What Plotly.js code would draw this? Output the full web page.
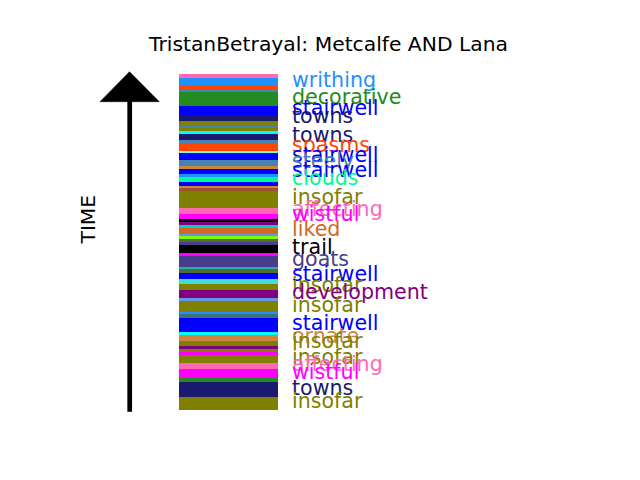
<!DOCTYPE html>
<html><head><meta charset="utf-8">
<script src="https://cdn.plot.ly/plotly-3.0.1.min.js"></script>
<style>html,body{margin:0;padding:0;background:#fff}#chart{width:640px;height:480px}</style>
</head><body><div id="chart"></div>
<script>
// Segments listed from the start of TIME (bottom) to the end (top)
const durations = [13.3, 14.4, 4.0, 9.6, 6.0, 7.7, 3.5, 3.0, 2.8, 5.0, 5.7, 3.3, 14.0, 3.4, 2.0, 11.6, 3.0, 8.0, 6.0, 5.0, 6.0, 3.4, 2.6, 11.0, 3.0, 8.0, 2.7, 3.0, 3.0, 2.0, 6.3, 3.0, 3.0, 3.0, 5.0, 6.0, 16.7, 3.0, 2.0, 3.7, 5.6, 2.4, 5.6, 2.7, 6.3, 6.4, 2.0, 8.6, 3.2, 6.0, 2.2, 3.0, 2.8, 5.0, 6.0, 8.8, 14.0, 2.7, 2.7, 8.6, 3.7];
const colors = ["olive","midnightblue","forestgreen","magenta","hotpink","olive","magenta","olive","purple","olive","peru","cyan","blue","#3f7080","dodgerblue","olive","cornflowerblue","purple","olive","turquoise","blue","darkolivegreen","lightseagreen","darkslateblue","magenta","black","darkslateblue","darkolivegreen","lawngreen","cornflowerblue","chocolate","darkturquoise","purple","black","magenta","hotpink","olive","sienna","peru","blue","mediumspringgreen","dodgerblue","blue","peru","steelblue","blue","aquamarine","orangered","steelblue","midnightblue","cyan","olive","steelblue","olive","midnightblue","blue","forestgreen","steelblue","orangered","dodgerblue","hotpink"];
const words = ["insofar","towns","","wistful","affecting","insofar","","","","insofar","ornate","","stairwell","","","insofar","","development","insofar","","stairwell","","","goats","","trail","","","","","liked","","","","wistful","affecting","insofar","","","","clouds","","stairwell","","steely","stairwell","","spasms","","towns","","","","","towns","stairwell","decorative","","","writhing",""];
const chartTitle = "TristanBetrayal: Metcalfe AND Lana";
const axisLabel = "TIME";

const bases = [];
let acc = 0;
for (const d of durations) { bases.push(acc); acc += d; }

const W = 640, H = 480;
const px = x => x / W, py = y => 1 - y / H;
const FONT = "DejaVu Sans, Verdana, sans-serif";
const FS = 20.6;
const FS_T = 20.3;

const trace = {
  type: "bar",
  x: durations.map(() => 0),
  y: durations,
  base: bases,
  width: 1,
  marker: {color: colors, line: {width: 0}},
  hoverinfo: "skip"
};

const annotations = [];
for (let i = words.length - 1; i >= 0; i--) {
  if (!words[i]) continue;
  annotations.push({
    x: 0.5, y: bases[i] + durations[i] / 2, xref: "x", yref: "y",
    xanchor: "left", yanchor: "middle", xshift: 12, yshift: 2,
    text: words[i], showarrow: false,
    font: {family: FONT, size: FS, color: colors[i]}
  });
}
annotations.push({
  x: px(87), y: py(219.5), xref: "paper", yref: "paper",
  xanchor: "center", yanchor: "middle", textangle: -90,
  text: axisLabel, showarrow: false,
  font: {family: FONT, size: FS_T, color: "black"}
});

const shapes = [
  {type: "line", xref: "paper", yref: "paper",
   x0: px(129.7), x1: px(129.7), y0: py(411.7), y1: py(100),
   line: {color: "black", width: 4.7}},
  {type: "path", xref: "paper", yref: "paper",
   path: `M ${px(100)} ${py(101.7)} L ${px(129.5)} ${py(71.7)} L ${px(159.3)} ${py(101.7)} Z`,
   fillcolor: "black", line: {color: "black", width: 0.5}}
];

const layout = {
  width: W, height: H,
  margin: {l: 0, r: 0, t: 0, b: 0},
  paper_bgcolor: "white", plot_bgcolor: "white",
  showlegend: false,
  title: {text: chartTitle, x: px(328.5), xanchor: "center", y: py(43.5), yanchor: "middle",
          font: {family: FONT, size: FS_T, color: "black"}},
  xaxis: {range: [-228.5 / 99, (640 - 228.5) / 99], visible: false, fixedrange: true},
  yaxis: {range: [-70, 410], visible: false, fixedrange: true},
  annotations: annotations,
  shapes: shapes,
  bargap: 0
};

Plotly.newPlot("chart", [trace], layout, {displayModeBar: false, staticPlot: true});
</script></body></html>
